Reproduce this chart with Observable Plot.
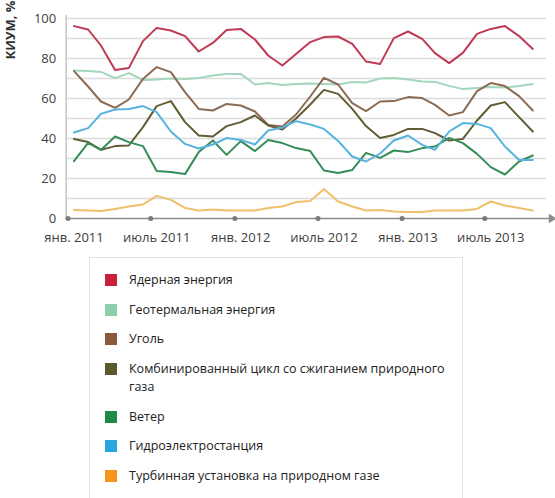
<!DOCTYPE html>
<html><head><meta charset="utf-8">
<script src="https://cdn.jsdelivr.net/npm/d3@7"></script>
<script src="https://cdn.jsdelivr.net/npm/@observablehq/plot@0.6"></script>
<style>
body{margin:0;background:#fff;font-family:"Open Sans",sans-serif;}
#chart{position:absolute;left:0;top:0;}
#legend{position:absolute;left:89px;top:257px;width:374px;height:260px;border:1px solid #e2e2e2;box-sizing:border-box;padding:13px 0 0 15px;}
.item{display:flex;align-items:flex-start;font-size:12.5px;line-height:18px;color:#222;margin-bottom:11.7px;}
.sw{width:12px;height:12px;margin-top:3px;margin-right:12px;flex:none;}
.lbl{width:330px;white-space:normal;}
</style></head><body>
<div id="chart"></div><div id="legend"></div>
<script>
// ---- data ----
const seriesNames = ["Ядерная энергия","Геотермальная энергия","Уголь","Комбинированный цикл со сжиганием природного газа","Ветер","Гидроэлектростанция","Турбинная установка на природном газе"];
const nuclear    = [96.2,94.5,86.5,74.3,75.2,88.7,95.3,94,91.2,83.5,87.8,94.3,94.8,89.5,81.5,76.5,82.3,88.2,90.7,91,87.3,78.5,77.3,90.2,93.5,89.8,82.7,77.7,82.8,92.3,94.8,96.2,91.2,84.8];
const geothermal = [74,73.8,73.3,70.2,72.7,69.3,69.5,70,69.8,70.3,71.5,72.2,72.3,67,67.7,66.8,67.2,67.5,67.3,67,68.3,68,70,70.2,69.5,68.5,68.3,66.3,64.7,65.2,65.8,65.5,66.3,67.3];
const coal       = [73.7,66,58.5,55.3,59.5,69.8,75.7,73.2,63.2,54.8,54,57.3,56.5,53.5,46.8,46,52,61,70.3,67,57.7,53.7,58.5,58.7,60.7,60.2,56.8,51.5,53.2,63.7,67.7,66.2,61.2,54];
const ccgt       = [39.8,38.2,34.3,36.2,36.5,45.7,56.2,58.7,48.2,41.5,41,46.2,48.2,51.5,46.5,44.5,50,57,64.3,62.3,54.8,46.2,40.3,41.8,44.8,44.8,42.7,39,39.8,49,56.5,58.2,50.7,43.5];
const wind       = [28.7,37.8,34.3,41,38.2,36.2,23.7,23.3,22.2,33.2,39,31.8,38.7,33.7,39.2,37.7,35.2,33.7,24,22.7,24.3,32.8,30.3,34,33.2,35.2,36,40.3,37.7,32.3,25.7,22,28.5,31.5];
const hydro      = [43,45.2,52.3,54.5,54.7,56.2,53.2,43.5,37.3,35,37,40.2,39.3,37,44,45.5,48.7,47,44.8,38.8,31,28.5,32.5,39,41.5,36.8,34.3,43.5,47.7,47.3,45.2,36,29.3,29.3];
const gasTurbine = [4.3,4,3.7,4.8,6,7,11.3,9.3,5.3,4,4.5,4,4,4,5.3,6,8.2,8.7,14.7,8.5,6,4,4.3,3.5,3.3,3.2,4,4,4,4.8,8.5,6.5,5.2,4];
const seriesValues = [nuclear,geothermal,coal,ccgt,wind,hydro,gasTurbine];
const startYear = 2011;
const xTickLabels = ["янв. 2011","июль 2011","янв. 2012","июль 2012","янв. 2013","июль 2013"];
const xTickMonths = [0,6,12,18,24,30];
const yTicks = [0,20,40,60,80,100];
const gridValues = [10,20,30,40,50,60,70,80,90,100];
const yLabel = "КИУМ, %";

// ---- styles ----
const lineColors = ["#bf3a55","#a3d6bc","#8c6b52","#625c35","#358e5a","#56b3de","#f0bf6a"];
const legendColors = ["#c8203a","#8ccfab","#8b5a3c","#5a5a2b","#1b8b46","#2aa6df","#f7941e"];

const monthDate = (i, day) => new Date(Date.UTC(startYear, i, day));
const data = seriesNames.flatMap((s,k) => seriesValues[k].map((v,i) => ({series:s, date:monthDate(i,14), value:v})));
const tickDates = xTickMonths.map(m => monthDate(m,1));
const labelDates = xTickMonths.map(m => monthDate(m,14));
const labelMap = new Map(labelDates.map((d,i) => [+d, xTickLabels[i]]));
const x0 = new Date(Date.UTC(2010,11,28)), x1 = new Date(Date.UTC(2013,10,13));

const plot = Plot.plot({
  width:555, height:250,
  marginLeft:65.7, marginRight:9, marginTop:18, marginBottom:32,
  style:{fontFamily:"Open Sans", fontSize:"13px", color:"#404040", background:"#fff"},
  x:{type:"utc", domain:[x0,x1]},
  y:{domain:[0,100]},
  color:{domain:seriesNames, range:lineColors},
  marks:[
    Plot.ruleY(gridValues,{stroke:"#dcdcdc",strokeWidth:1.5}),
    Plot.ruleX([x0],{y1:0,y2:101.5,stroke:"#c4c4c4",strokeWidth:1.5}),
    Plot.line(data,{x:"date",y:"value",z:"series",stroke:"series",strokeWidth:2}),
    Plot.ruleY([0],{stroke:"#8c8c8c",strokeWidth:1.5,insetRight:-4}),
    Plot.dot(tickDates,{x:d=>d,y:()=>0,r:2.5,fill:"#7a7a7a"}),
    Plot.dot([x1],{x:d=>d,y:()=>0,symbol:"triangle",rotate:90,r:3.5,fill:"#8c8c8c",dx:5}),
    Plot.axisY(yTicks,{tickSize:0,tickPadding:10,label:null}),
    Plot.axisX(labelDates,{tickSize:0,tickPadding:14,tickFormat:d=>labelMap.get(+d),label:null})
  ]
});
d3.select(plot).append("text")
  .attr("transform","translate(15,30) rotate(-90)")
  .attr("text-anchor","middle")
  .attr("font-weight","bold")
  .attr("font-size",13)
  .attr("fill","#333")
  .text(yLabel);
document.getElementById("chart").appendChild(plot);

const legend = d3.select("#legend");
seriesNames.forEach((s,k) => {
  const it = legend.append("div").attr("class","item");
  it.append("div").attr("class","sw").style("background",legendColors[k]);
  it.append("div").attr("class","lbl").text(s);
});
</script>
</body></html>
